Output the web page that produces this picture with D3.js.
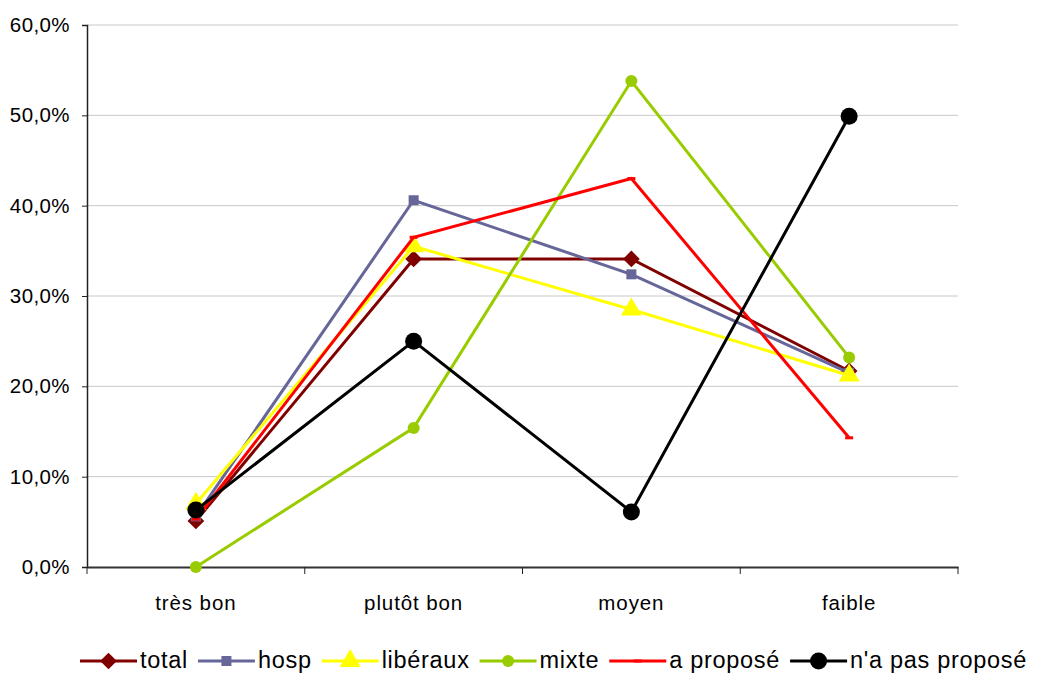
<!DOCTYPE html>
<html><head><meta charset="utf-8">
<script src="https://cdn.jsdelivr.net/npm/d3@7"></script>
<style>body{margin:0;background:#fff;} svg{display:block;font-family:"Liberation Sans",Arial,sans-serif;}</style>
</head><body>
<svg id="c" width="1044" height="673"></svg>
<script>
const categories = ["très bon", "plutôt bon", "moyen", "faible"];
const seriesNames = ["total", "hosp", "libéraux", "mixte", "a proposé", "n'a pas proposé"];
const total = [5.1, 34.1, 34.1, 21.7];
const hosp = [5.6, 40.6, 32.4, 21.5];
const liberaux = [7.0, 35.5, 28.5, 21.2];
const mixte = [0.0, 15.4, 53.8, 23.2];
const aPropose = [5.3, 36.5, 43.0, 14.3];
const naPasPropose = [6.3, 25.0, 6.1, 49.9];
const yTicks = [0, 10, 20, 30, 40, 50, 60];

const seriesValues = [total, hosp, liberaux, mixte, aPropose, naPasPropose];
const colors = ["#800000", "#666699", "#FFFF00", "#99CC00", "#FF0000", "#000000"];
const markers = ["diamond", "square", "triangle", "circle", "dash", "bigcircle"];

const svg = d3.select("#c");
const pLeft = 87, pRight = 958, pTop = 25, pBottom = 567;

const x = d3.scaleBand().domain(categories).range([pLeft, pRight]);
const y = d3.scaleLinear().domain([0, 60]).range([pBottom, pTop]);

// gridlines
svg.append("g").selectAll("line").data(yTicks.filter(d => d > 0)).join("line")
  .attr("x1", pLeft).attr("x2", pRight)
  .attr("y1", d => y(d)).attr("y2", d => y(d))
  .attr("stroke", "#c8c8c8").attr("stroke-width", 1);

// y axis
const yAxis = svg.append("g").attr("transform", `translate(${pLeft},0)`)
  .call(d3.axisLeft(y).tickValues(yTicks).tickSize(5).tickPadding(12)
    .tickFormat(d => d.toFixed(1).replace(".", ",") + "%"));
yAxis.select(".domain").attr("stroke", "#222").attr("stroke-width", 1.5);
yAxis.selectAll(".tick line").attr("stroke", "#222");
yAxis.selectAll("text").attr("font-size", 20.5).attr("letter-spacing", 0.4)
  .attr("fill", "#000").attr("font-family", "Liberation Sans, Arial, sans-serif");

// x axis
const xAxis = svg.append("g").attr("transform", `translate(0,${pBottom})`)
  .call(d3.axisBottom(x).tickSize(0).tickPadding(28));
xAxis.select(".domain").attr("stroke", "#333").attr("stroke-width", 2);
xAxis.selectAll("text").attr("font-size", 20.5).attr("letter-spacing", 0.9)
  .attr("fill", "#000").attr("font-family", "Liberation Sans, Arial, sans-serif");
// boundary ticks
const bounds = categories.map(c => x(c) + x.bandwidth());
svg.append("g").selectAll("line").data([pLeft].concat(bounds)).join("line")
  .attr("x1", d => d).attr("x2", d => d).attr("y1", pBottom).attr("y2", pBottom + 7)
  .attr("stroke", "#222").attr("stroke-width", 1);

const cx = c => x(c) + x.bandwidth() / 2;

function drawMarker(g, type, color, px, py) {
  if (type === "diamond") {
    g.append("path").attr("d", d3.symbol().type(d3.symbolSquare).size(140)())
      .attr("transform", `translate(${px},${py}) rotate(45)`).attr("fill", color);
  } else if (type === "square") {
    g.append("rect").attr("x", px - 5).attr("y", py - 5).attr("width", 10).attr("height", 10).attr("fill", color);
  } else if (type === "triangle") {
    g.append("path").attr("d", d3.symbol().type(d3.symbolTriangle).size(190)())
      .attr("transform", `translate(${px},${py})`).attr("fill", color);
  } else if (type === "circle") {
    g.append("circle").attr("cx", px).attr("cy", py).attr("r", 6).attr("fill", color);
  } else if (type === "dash") {
    g.append("line").attr("x1", px - 4).attr("x2", px + 4).attr("y1", py).attr("y2", py)
      .attr("stroke", color).attr("stroke-width", 3);
  } else if (type === "bigcircle") {
    g.append("circle").attr("cx", px).attr("cy", py).attr("r", 8.5).attr("fill", color);
  }
}

const line = d3.line().x((d, i) => cx(categories[i])).y(d => y(d));

seriesValues.forEach((vals, s) => {
  const g = svg.append("g");
  g.append("path").datum(vals).attr("d", line).attr("fill", "none")
    .attr("stroke", colors[s]).attr("stroke-width", 3).attr("stroke-linejoin", "miter");
  vals.forEach((v, i) => drawMarker(g, markers[s], colors[s], cx(categories[i]), y(v)));
});

// legend
let lx = 80;
const ly = 661;
seriesNames.forEach((name, s) => {
  const g = svg.append("g");
  g.append("line").attr("x1", lx).attr("x2", lx + 57).attr("y1", ly).attr("y2", ly)
    .attr("stroke", colors[s]).attr("stroke-width", 3);
  drawMarker(g, markers[s], colors[s], lx + 28.5, ly);
  const t = g.append("text").attr("x", lx + 60).attr("y", ly + 7)
    .attr("font-size", 23.5).attr("letter-spacing", 0.7).attr("fill", "#000").text(name);
  lx = lx + 60 + t.node().getComputedTextLength() + 10;
});
</script>
</body></html>
